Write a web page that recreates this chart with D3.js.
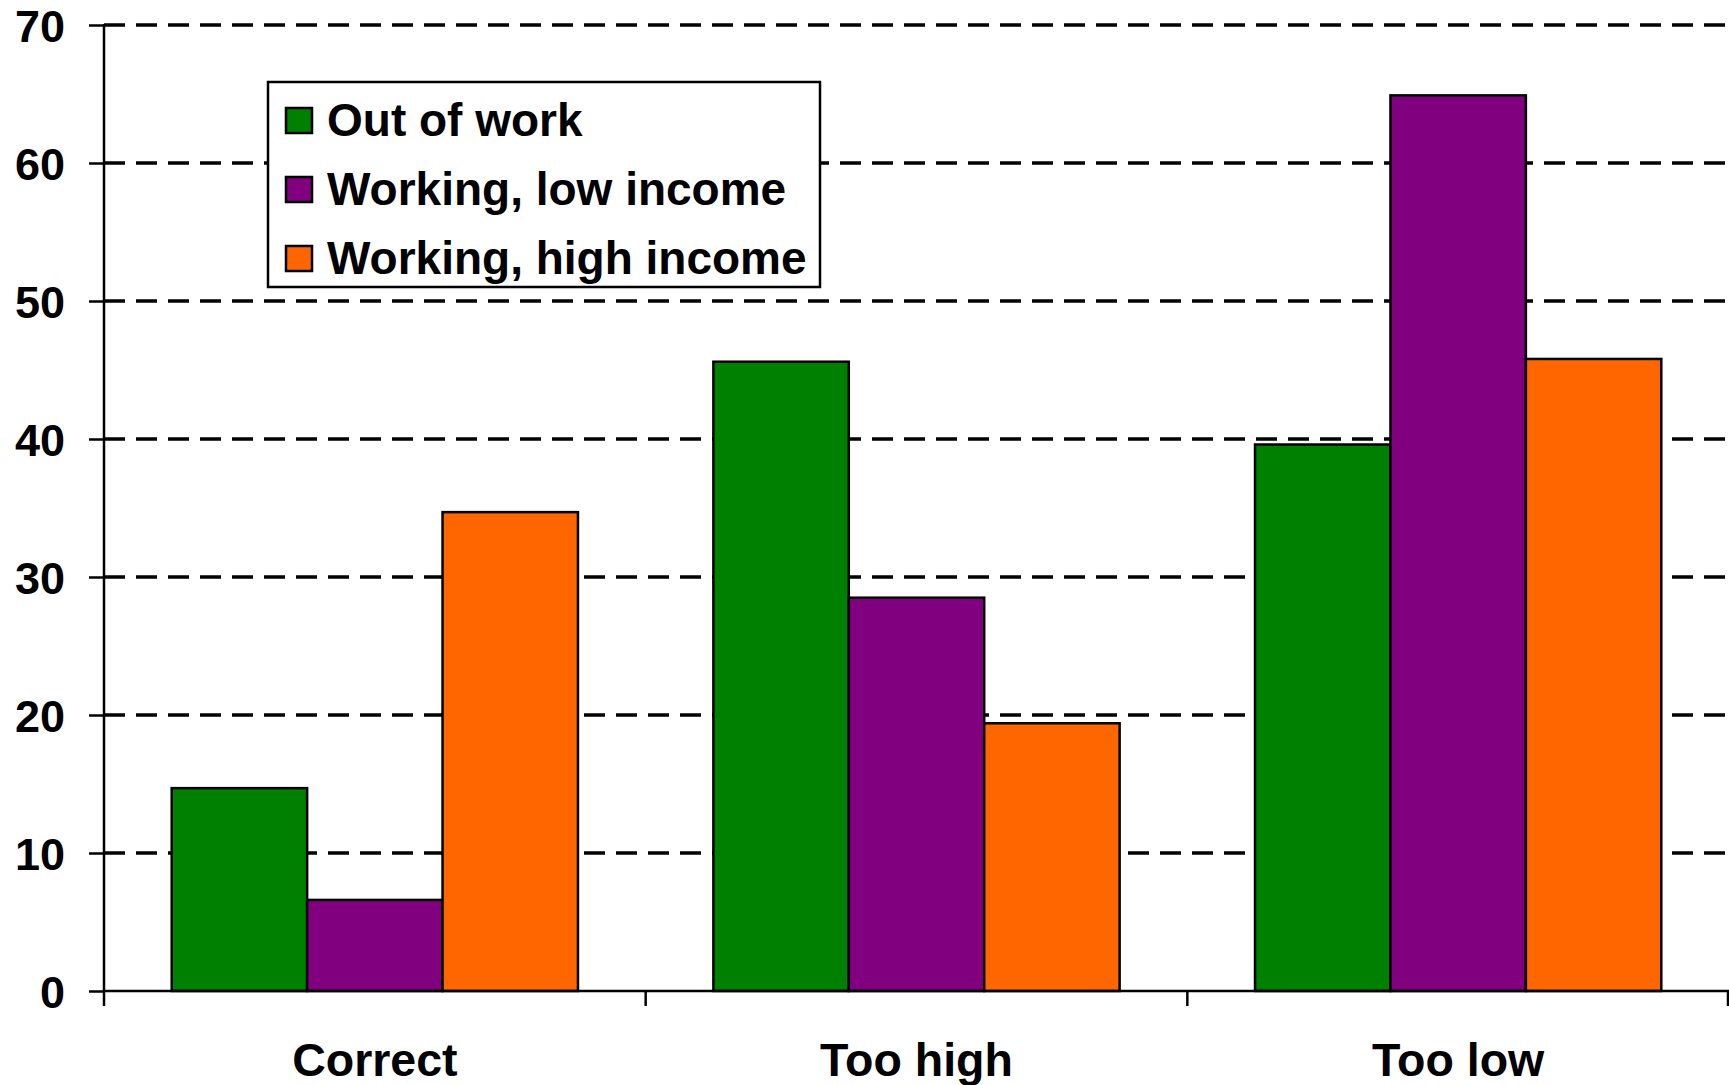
<!DOCTYPE html>
<html>
<head>
<meta charset="utf-8">
<script src="https://cdn.jsdelivr.net/npm/d3@7"></script>
<style>
  html, body { margin: 0; padding: 0; background: #fff; }
  svg { display: block; }
  text { font-family: "Liberation Sans", Arial, sans-serif; font-weight: bold; fill: #000; }
</style>
</head>
<body>
<script>
const categories = ["Correct", "Too high", "Too low"];
const seriesNames = ["Out of work", "Working, low income", "Working, high income"];
const seriesColors = ["#008000", "#800080", "#FF6600"];
const outOfWork = [14.7, 45.6, 39.6];
const workingLow = [6.6, 28.5, 64.9];
const workingHigh = [34.7, 19.4, 45.8];
const yTicks = [0, 10, 20, 30, 40, 50, 60, 70];

const seriesValues = [outOfWork, workingLow, workingHigh];

const W = 1729, H = 1085;
const plotLeft = 104, plotRight = 1729, plotTop = 25, plotBottom = 991;

const svg = d3.select("body").append("svg").attr("width", W).attr("height", H);

const y = d3.scaleLinear().domain([0, 70]).range([plotBottom, plotTop]);
const x0 = d3.scaleBand().domain(categories).range([plotLeft, plotRight]).padding(0);
const x1 = d3.scaleBand().domain(seriesNames).range([0, x0.bandwidth()]).paddingInner(0).paddingOuter(0.5);

// gridlines
svg.append("g").selectAll("line")
  .data(yTicks.filter(d => d > 0))
  .join("line")
  .attr("x1", plotLeft).attr("x2", plotRight)
  .attr("y1", d => y(d)).attr("y2", d => y(d))
  .attr("stroke", "#000").attr("stroke-width", 3.5)
  .attr("stroke-dasharray", "21,11");

// bars
const data = [];
categories.forEach((c, i) => {
  seriesNames.forEach((s, j) => {
    data.push({ cat: c, series: s, value: seriesValues[j][i], color: seriesColors[j] });
  });
});
svg.append("g").selectAll("rect")
  .data(data)
  .join("rect")
  .attr("x", d => x0(d.cat) + x1(d.series))
  .attr("y", d => y(d.value))
  .attr("width", x1.bandwidth())
  .attr("height", d => y(0) - y(d.value))
  .attr("fill", d => d.color)
  .attr("stroke", "#000").attr("stroke-width", 2.5);

// y axis
const yAxis = d3.axisLeft(y).tickValues(yTicks).tickSize(15).tickPadding(24).tickFormat(d3.format("d"));
const gy = svg.append("g").attr("transform", `translate(${plotLeft},0)`).call(yAxis);
gy.select(".domain").remove();
gy.selectAll(".tick line").attr("stroke", "#000").attr("stroke-width", 2.5);
gy.selectAll(".tick text").style("font-size", "45px").attr("dy", "0.36em");
svg.append("line").attr("x1", plotLeft).attr("x2", plotLeft).attr("y1", plotTop - 1).attr("y2", plotBottom + 15)
  .attr("stroke", "#000").attr("stroke-width", 2.5);

// x axis
svg.append("line").attr("x1", plotLeft).attr("x2", plotRight).attr("y1", plotBottom).attr("y2", plotBottom)
  .attr("stroke", "#000").attr("stroke-width", 2.5);
const boundaries = categories.map(c => x0(c)).concat([x0(categories[categories.length - 1]) + x0.bandwidth()]);
svg.append("g").selectAll("line")
  .data(boundaries.slice(1))
  .join("line")
  .attr("x1", d => Math.min(d, plotRight - 1)).attr("x2", d => Math.min(d, plotRight - 1))
  .attr("y1", plotBottom).attr("y2", plotBottom + 15)
  .attr("stroke", "#000").attr("stroke-width", 2.5);
const xAxis = d3.axisBottom(x0).tickSize(0).tickPadding(0);
const gx = svg.append("g").attr("transform", `translate(0,${plotBottom})`).call(xAxis);
gx.select(".domain").remove();
gx.selectAll(".tick text").style("font-size", "46.5px").attr("y", 85).attr("dy", 0);

// legend
const lg = svg.append("g");
lg.append("rect").attr("x", 268).attr("y", 82).attr("width", 552).attr("height", 205)
  .attr("fill", "#fff").attr("stroke", "#000").attr("stroke-width", 2.5);
const rowY = d3.scalePoint().domain(seriesNames).range([120.5, 258.5]);
const rows = lg.selectAll("g.row").data(seriesNames).join("g").attr("class", "row")
  .attr("transform", d => `translate(0,${rowY(d)})`);
rows.append("rect").attr("x", 286).attr("y", -12.5).attr("width", 26).attr("height", 25)
  .attr("fill", (d, i) => seriesColors[i]).attr("stroke", "#000").attr("stroke-width", 2.5);
rows.append("text").attr("x", 327).attr("y", 0).attr("dy", "0.33em")
  .style("font-size", "46px").text(d => d);
</script>
</body>
</html>
